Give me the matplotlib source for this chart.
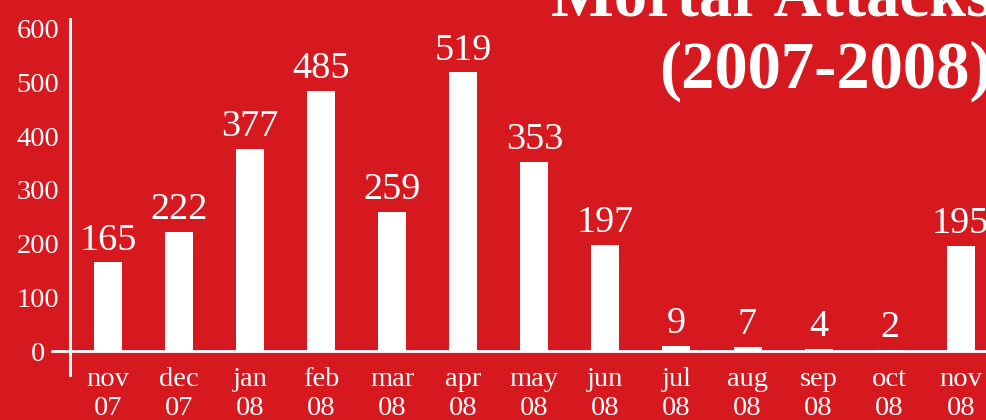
import matplotlib
matplotlib.use("Agg")
import matplotlib.pyplot as plt
import numpy as np

# data
months = ["nov\n07", "dec\n07", "jan\n08", "feb\n08", "mar\n08", "apr\n08", "may\n08",
          "jun\n08", "jul\n08", "aug\n08", "sep\n08", "oct\n08", "nov\n08"]
attacks = [165, 222, 377, 485, 259, 519, 353, 197, 9, 7, 4, 2, 195]
yticks = [0, 100, 200, 300, 400, 500, 600]

RED = "#D6181F"
WHITE = "white"
W, H = 987, 420

plt.rcParams["font.family"] = ["Liberation Serif", "DejaVu Serif"]

fig = plt.figure(figsize=(W / 100, H / 100), dpi=100)
fig.patch.set_facecolor(RED)

# axes box in pixels: left spine at x=70, spans y 19..375
ax = fig.add_axes([70 / W, (H - 375) / H, (W - 70) / W, (375 - 19) / H])
ax.set_facecolor(RED)

x = np.arange(len(attacks))
ax.bar(x, attacks, width=0.394, color=WHITE, zorder=3)

for xi, v in zip(x, attacks):
    ax.text(xi, v + 24, str(v), ha="center", va="baseline", color=WHITE, fontsize=27.5)

ax.set_xlim(-0.535, 12.37)
ax.set_ylim(-44.7, 618.6)

ax.set_yticks(yticks)
ax.set_yticklabels([str(t) for t in yticks], fontsize=20.5, color=WHITE, ha="center")
ax.set_xticks(x)
ax.set_xticklabels(months, fontsize=20.5, color=WHITE, linespacing=1.2)
# y labels are centred about 32 px left of the axis line
ax.tick_params(axis="y", length=0, pad=23)
ax.tick_params(axis="x", length=0, pad=-5.5)

for side in ["top", "right", "bottom"]:
    ax.spines[side].set_visible(False)
ax.spines["left"].set_color(WHITE)
ax.spines["left"].set_linewidth(2.2)

# zero line reaching a little left of the axis
ax.axhline(0, xmin=-18 / (W - 70), xmax=1, color=WHITE, lw=2, clip_on=False, zorder=4)

fig.text(992 / W, 1 - 15 / H, "Mortar Attacks", ha="right", va="baseline",
         color=WHITE, fontsize=48, fontweight="bold")
fig.text(992 / W, 1 - 88 / H, "(2007-2008)", ha="right", va="baseline",
         color=WHITE, fontsize=48, fontweight="bold")

fig.savefig("out.png", dpi=100, facecolor=RED)
